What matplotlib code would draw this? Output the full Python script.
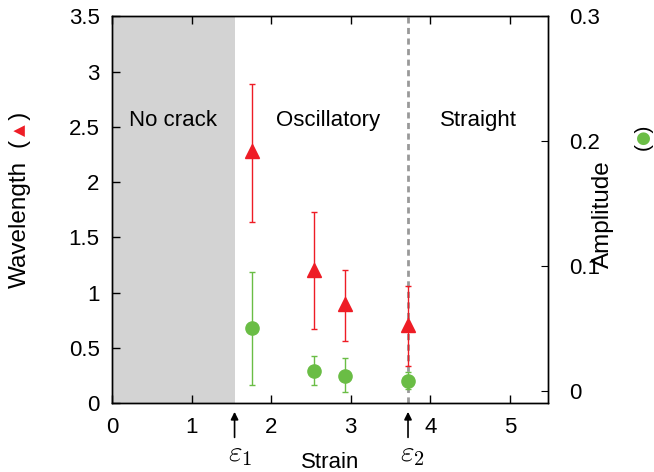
import matplotlib
matplotlib.use("Agg")
import matplotlib.pyplot as plt

plt.rcParams['font.family'] = ['Liberation Sans', 'DejaVu Sans']
plt.rcParams['mathtext.fontset'] = 'cm'

# ---- data ----
strain = [1.757, 2.54, 2.93, 3.72]
wavelength = [2.28, 1.21, 0.90, 0.71]
wavelength_hi = [2.89, 1.73, 1.21, 1.06]
wavelength_lo = [1.64, 0.67, 0.56, 0.34]
amplitude = [0.050, 0.016, 0.012, 0.008]
amplitude_hi = [0.095, 0.028, 0.026, 0.0153]
amplitude_lo = [0.0046, 0.0046, -0.0012, 0.0014]
eps1 = 1.54
eps2 = 3.72
regions = ["No crack", "Oscillatory", "Straight"]
region_x = [0.77, 2.72, 4.6]
xticks = [0, 1, 2, 3, 4, 5]
yticks_left = [0, 0.5, 1, 1.5, 2, 2.5, 3, 3.5]
ylabels_left = ["0", "0.5", "1", "1.5", "2", "2.5", "3", "3.5"]
yticks_right = [0, 0.1, 0.2, 0.3]
ylabels_right = ["0", "0.1", "0.2", "0.3"]

RED = "#ee1c25"
GREEN = "#6abd45"
FS = 16
LFS = 17.5

fig = plt.figure(figsize=(6.54, 4.72), dpi=100)
ax = fig.add_axes([0.1713, 0.1455, 0.6667, 0.8200])
ax2 = ax.twinx()

ax.set_xlim(0, 5.48)
ax.set_ylim(0, 3.5)
ax2.set_ylim(-0.01, 0.3)

# shaded region and boundary
ax.axvspan(0, eps1, color="#d3d3d3", lw=0, zorder=0)
ax.axvline(eps2, color="#999999", lw=2.0, ls=(0, (2.2, 1.6)), zorder=1)

# red wavelength
yerr_r = [[w - l for w, l in zip(wavelength, wavelength_lo)],
          [h - w for w, h in zip(wavelength, wavelength_hi)]]
ax.errorbar(strain, wavelength, yerr=yerr_r, fmt='^', color=RED, ms=9.5,
            mec=RED, ecolor=RED, elinewidth=1.0, capsize=2.4, capthick=1.0, zorder=3)

# green amplitude
yerr_g = [[a - l for a, l in zip(amplitude, amplitude_lo)],
          [h - a for a, h in zip(amplitude, amplitude_hi)]]
ax2.errorbar(strain, amplitude, yerr=yerr_g, fmt='o', color=GREEN, ms=9.5,
             mec=GREEN, ecolor=GREEN, elinewidth=1.0, capsize=2.4, capthick=1.0, zorder=3)

# region text
for t, x in zip(regions, region_x):
    ax.text(x, 2.56, t, ha='center', va='center', fontsize=FS)

# ticks
ax.set_xticks(xticks)
ax.set_xticklabels([str(v) for v in xticks])
ax.set_yticks(yticks_left)
ax.set_yticklabels(ylabels_left)
ax2.set_yticks(yticks_right)
ax2.set_yticklabels(ylabels_right)
ax.tick_params(axis='x', direction='in', length=6, width=1, pad=10, labelsize=FS, top=True)
ax.tick_params(axis='y', direction='in', length=6, width=1, pad=9, labelsize=FS, right=False)
ax2.tick_params(axis='y', direction='in', length=5, width=0.8, pad=15, labelsize=FS,
                colors='black')
for a in (ax, ax2):
    for s in a.spines.values():
        s.set_linewidth(1.0)

# x label
ax.set_xlabel("Strain", fontsize=FS, labelpad=10)

# epsilon arrows
for e, lab, dx in [(eps1, r"$\varepsilon_1$", 4), (eps2, r"$\varepsilon_2$", 3)]:
    ax.annotate("", xy=(e, -0.022), xycoords=('data', 'axes fraction'),
                xytext=(e, -0.088), textcoords=('data', 'axes fraction'),
                arrowprops=dict(arrowstyle='-|>', color='black', lw=1.2,
                                mutation_scale=11, shrinkA=0, shrinkB=0),
                annotation_clip=False)
    ax.annotate(lab, xy=(e, -0.095), xycoords=('data', 'axes fraction'),
                xytext=(dx, 0), textcoords='offset points',
                ha='center', va='top', fontsize=21, annotation_clip=False)

# left y label with red triangle
fig.text(20 / 654, 1 - 224 / 472, "Wavelength", rotation=90, ha='center', va='center', fontsize=LFS)
fig.text(20 / 654, 1 - 130 / 472, "(   )", rotation=90, ha='center', va='center', fontsize=LFS)
fig.text(19.5 / 654, 1 - 130 / 472, "\u25B2", rotation=90, ha='center', va='center',
         fontsize=11, color=RED, family='DejaVu Sans')

# right y label with green circle
fig.text(603 / 654, 1 - 214 / 472, "Amplitude", rotation=90, ha='center', va='center', fontsize=LFS)
fig.text(644 / 654, 1 - 138 / 472, "(  )", rotation=90, ha='center', va='center', fontsize=15)
fig.text(643.5 / 654, 1 - 138 / 472, "\u25CF", rotation=90, ha='center', va='center',
         fontsize=12, color=GREEN, family='DejaVu Sans')

fig.savefig("out.png", dpi=100)
